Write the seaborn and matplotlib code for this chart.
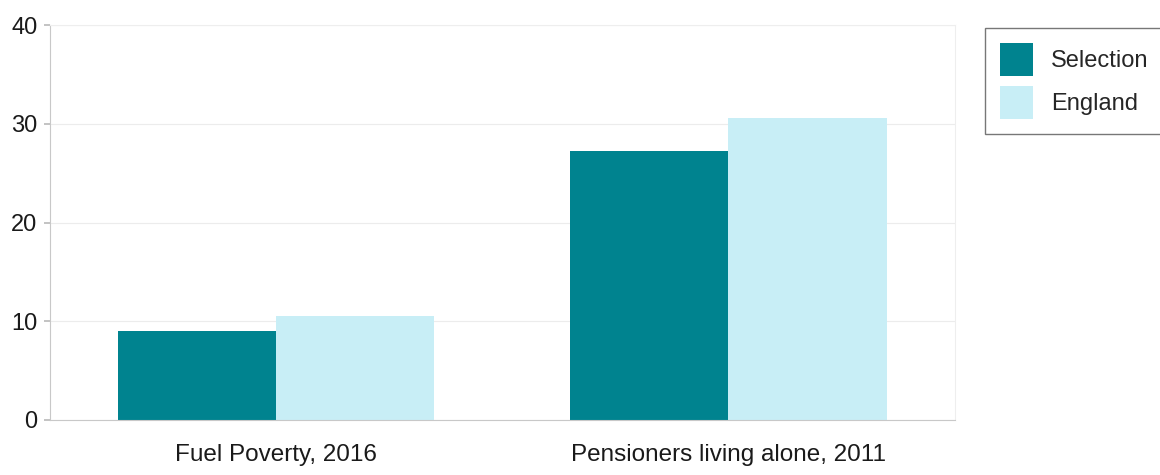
import matplotlib
matplotlib.use("Agg")

import matplotlib.pyplot as plt
import seaborn as sns
import pandas as pd

# データ
categories = ["Fuel Poverty, 2016", "Pensioners living alone, 2011"]
series_names = ["Selection", "England"]
selection_values = [9.0, 27.2]
england_values = [10.5, 30.6]
y_ticks = [0, 10, 20, 30, 40]

colors = {"Selection": "#00838F", "England": "#C8EEF6"}

sns.set_theme(style="white")
plt.rcParams["font.family"] = ["Liberation Sans", "DejaVu Sans"]

df = pd.DataFrame({
    "category": categories * 2,
    "group": [series_names[0]] * 2 + [series_names[1]] * 2,
    "value": selection_values + england_values,
})

fig = plt.figure(figsize=(11.6, 4.75), dpi=100)
ax = fig.add_axes([0.043, 0.116, 0.780, 0.831])

sns.barplot(
    data=df, x="category", y="value", hue="group",
    hue_order=series_names, palette=colors, width=0.7,
    saturation=1, ax=ax, errorbar=None, gap=0, linewidth=0,
)

ax.set_ylim(0, 40)
ax.set_xlim(-0.5, 1.5)
ax.set_yticks(y_ticks)
ax.set_xlabel("")
ax.set_ylabel("")
ax.tick_params(axis="y", labelsize=17, length=4, color="#bbbbbb", left=True, pad=5)
ax.tick_params(axis="x", labelsize=17.5, length=0, pad=17)
for lbl in ax.get_yticklabels() + ax.get_xticklabels():
    lbl.set_color("#1a1a1a")

ax.grid(axis="y", color="#ececec", linewidth=0.8)
ax.set_axisbelow(True)
for side in ["left", "bottom"]:
    ax.spines[side].set_color("#c8c8c8")
    ax.spines[side].set_linewidth(0.8)
for side in ["top", "right"]:
    ax.spines[side].set_color("#eeeeee")
    ax.spines[side].set_linewidth(0.8)

# 凡例（図の右外側、右端は切れる）
handles, labels = ax.get_legend_handles_labels()
ax.legend_.remove()
leg = fig.legend(
    handles, labels, loc="upper left", bbox_to_anchor=(0.849, 0.941),
    frameon=True, fancybox=False, fontsize=17, handlelength=1.4,
    handleheight=1.75, handletextpad=0.75, borderpad=0.65, labelspacing=0.42,
    borderaxespad=0,
)
leg.get_frame().set_edgecolor("#555555")
leg.get_frame().set_linewidth(1.0)

fig.savefig("out.png", dpi=100)
